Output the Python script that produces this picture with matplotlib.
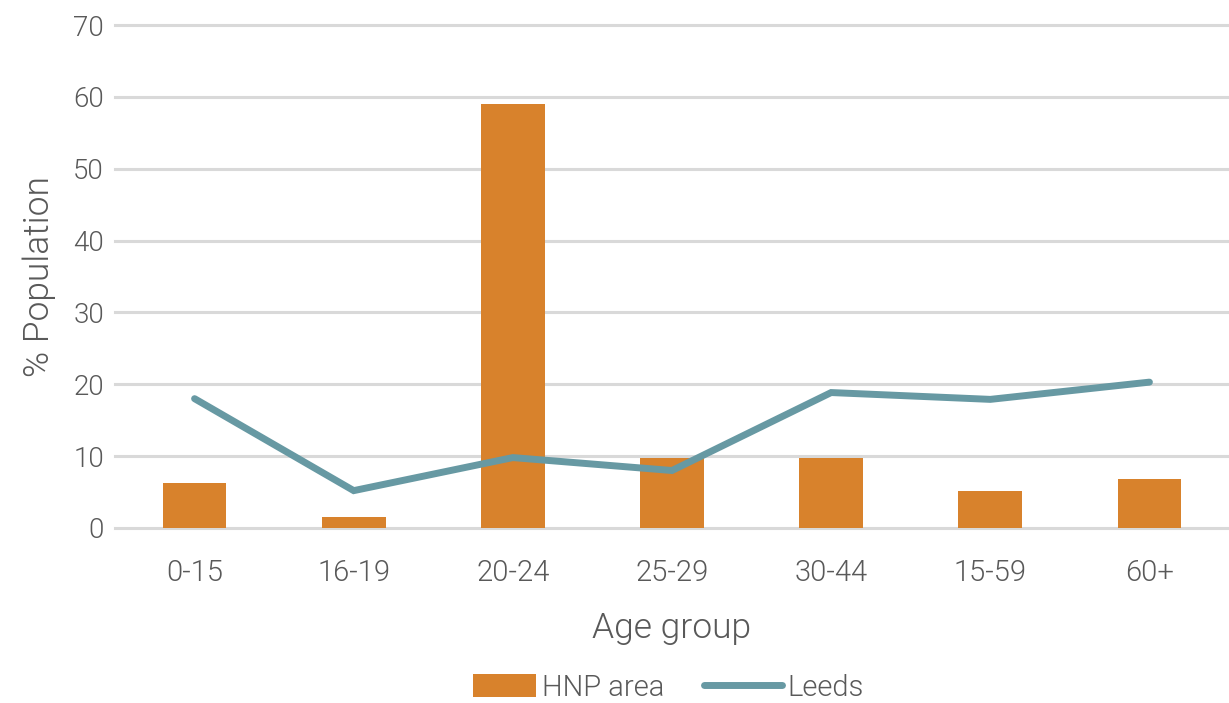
import matplotlib
matplotlib.use("Agg")
import matplotlib.pyplot as plt
import matplotlib.patches as mpatches
from matplotlib.legend_handler import HandlerPatch
import numpy as np

categories = ["0-15", "16-19", "20-24", "25-29", "30-44", "15-59", "60+"]
hnp_area = [6.3, 1.6, 59.0, 9.8, 9.8, 5.2, 6.75]
leeds = [18.0, 5.2, 9.8, 8.0, 18.85, 17.9, 20.3]
yticks = [0, 10, 20, 30, 40, 50, 60, 70]

plt.rcParams['font.family'] = ['Roboto', 'DejaVu Sans']
W = 300
txt = '#595959'
bar_c = '#D8822C'
line_c = '#6799A3'
grid_c = '#D9D9D9'

fig = plt.figure(figsize=(12.29, 7.03), dpi=100)
ax = fig.add_axes([115/1229, 1-528/703, 1-115/1229, (528-25)/703])

x = np.arange(len(categories))
for yv in yticks:
    ax.axhline(yv, color=grid_c, lw=2.2, zorder=0, clip_on=False)
bars = ax.bar(x, hnp_area, width=0.4, color=bar_c, zorder=2, label='HNP area')
ln, = ax.plot(x, leeds, color=line_c, lw=5, solid_capstyle='round', solid_joinstyle='miter', zorder=3, label='Leeds')

ax.set_xlim(-0.5, len(categories) - 0.5)
ax.set_ylim(0, 70)
ax.set_yticks(yticks)
ax.set_yticklabels([str(v) for v in yticks], fontsize=20, color=txt, fontweight=W)
ax.set_xticks(x)
ax.set_xticklabels(categories, fontsize=21, color=txt, fontweight=W)
ax.tick_params(axis='both', length=0)
ax.tick_params(axis='y', pad=8)
ax.tick_params(axis='x', pad=22)
for s in ax.spines.values():
    s.set_visible(False)

ax.set_xlabel('Age group', fontsize=25.5, color=txt, labelpad=18, fontweight=W)
ax.set_ylabel('% Population', fontsize=25.5, color=txt, labelpad=12, fontweight=W)


def patch_func(legend, orig_handle, xdescent, ydescent, width, height, fontsize):
    pw = 63 * 72 / 100.0
    ph = 23 * 72 / 100.0
    return mpatches.Rectangle((width - xdescent - pw, -ydescent + (height - ph) / 2), pw, ph)


leg = fig.legend(handles=[bars.patches[0], ln], labels=['HNP area', 'Leeds'], loc='center',
                 bbox_to_anchor=(661/1229, 1-688/703), ncol=2, frameon=False,
                 prop={'family': ['Roboto', 'DejaVu Sans'], 'weight': W, 'size': 21},
                 handlelength=2.67, handleheight=0.8, handletextpad=0.2,
                 columnspacing=1.35,
                 handler_map={mpatches.Rectangle: HandlerPatch(patch_func=patch_func)})
for t in leg.get_texts():
    t.set_color(txt)

fig.savefig('out.png', dpi=100)
